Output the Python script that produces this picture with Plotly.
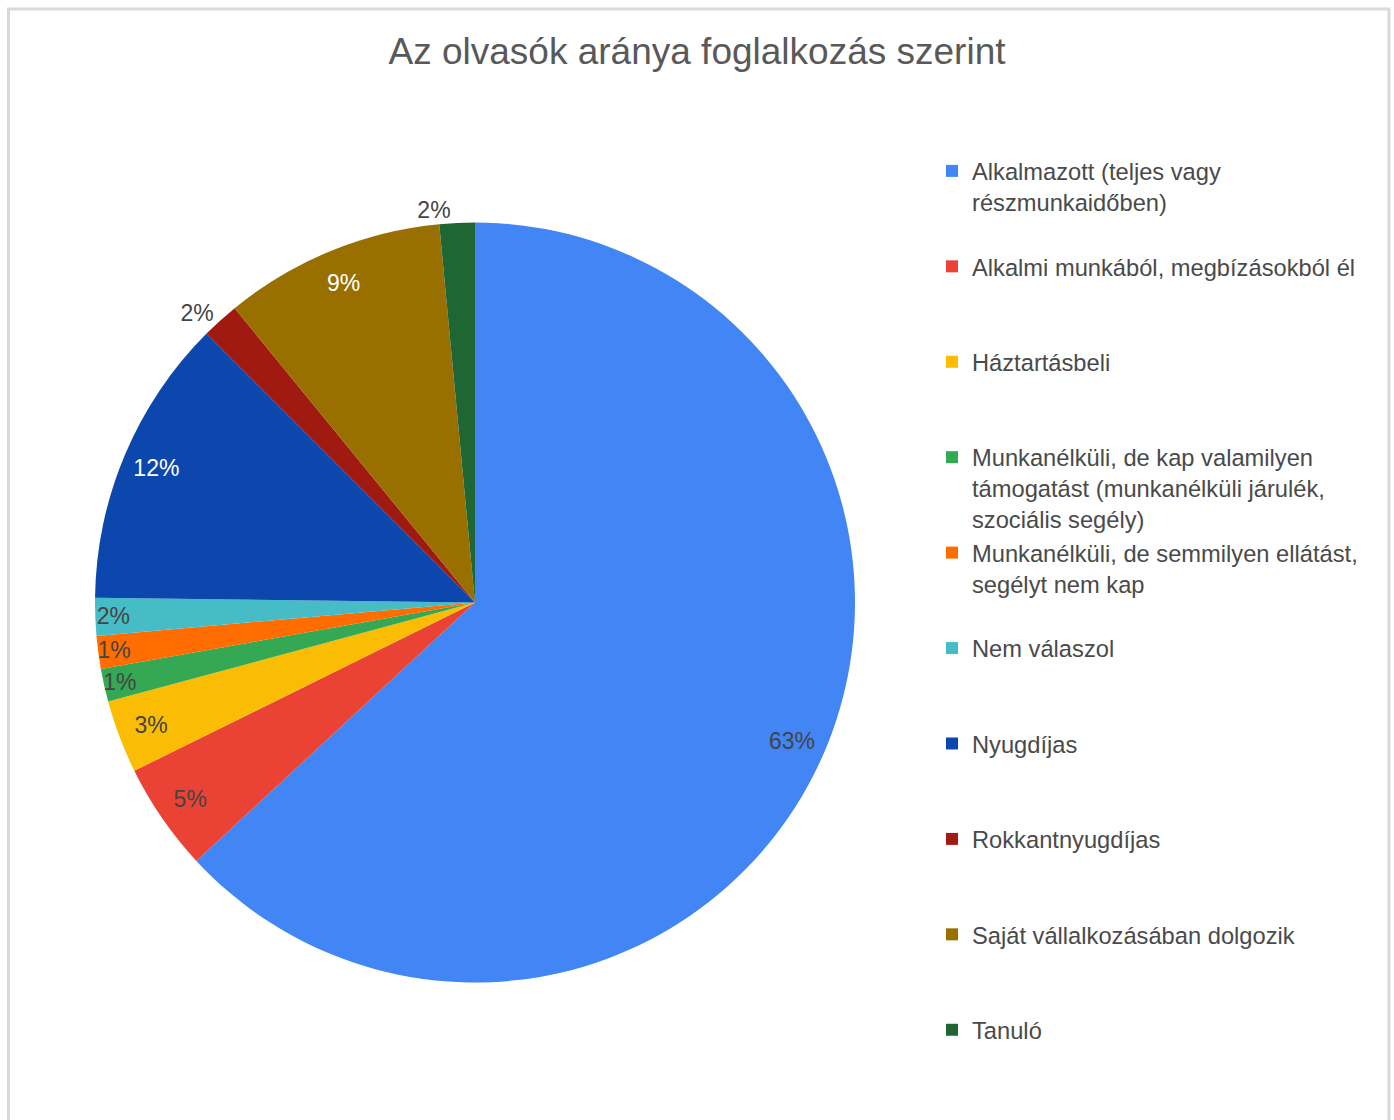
import plotly.graph_objects as go

# ---- data ----
categories = [
    "Alkalmazott (teljes vagy<br>részmunkaidőben)",
    "Alkalmi munkából, megbízásokból él",
    "Háztartásbeli",
    "Munkanélküli, de kap valamilyen<br>támogatást (munkanélküli járulék,<br>szociális segély)",
    "Munkanélküli, de semmilyen ellátást,<br>segélyt nem kap",
    "Nem válaszol",
    "Nyugdíjas",
    "Rokkantnyugdíjas",
    "Saját vállalkozásában dolgozik",
    "Tanuló",
]
shares = [63.1, 4.6, 3.1, 1.4, 1.4, 1.6, 12.3, 1.6, 9.4, 1.5]
colors = ["#4285F4", "#EA4335", "#FBBC04", "#34A853", "#FF6D01",
          "#46BDC6", "#0B47AD", "#A11A12", "#997000", "#1E6634"]
label_colors = ["#444444", "#444444", "#444444", "#444444", "#444444",
                "#444444", "#FFFFFF", "#444444", "#FFFFFF", "#444444"]
label_pos = ["inside", "inside", "inside", "inside", "inside",
             "inside", "inside", "outside", "inside", "outside"]
title_text = "Az olvasók aránya foglalkozás szerint"

W, H = 1394, 1120
FONT = "Liberation Sans, Arial, sans-serif"
pie_domain = dict(x=[95 / W, 855 / W], y=[1 - 982.5 / H, 1 - 222.5 / H])

# pad legend entries to equal height (3 lines), as in the reference
legend_labels = []
for i, c in enumerate(categories):
    n = c.count("<br>") + 1
    pad = 0 if i == len(categories) - 1 else 3 - n
    legend_labels.append(c + "<br>\u00a0" * pad)

fig = go.Figure()
# the pie itself
fig.add_trace(go.Pie(
    labels=legend_labels,
    values=shares,
    sort=False,
    direction="clockwise",
    rotation=0,
    marker=dict(colors=colors, line=dict(width=0)),
    textinfo="none",
    domain=pie_domain,
    hoverinfo="label+percent",
))
# transparent ring carrying the percentage labels near the rim
fig.add_trace(go.Pie(
    labels=legend_labels,
    values=shares,
    sort=False,
    direction="clockwise",
    rotation=0,
    hole=0.82,
    marker=dict(colors=["rgba(0,0,0,0)"] * len(shares), line=dict(width=0)),
    texttemplate="%{percent:.0%}",
    textposition=label_pos,
    insidetextorientation="horizontal",
    textfont=dict(family=FONT, size=23, color=label_colors),
    domain=pie_domain,
    showlegend=False,
    hoverinfo="skip",
))

fig.update_layout(
    width=W, height=H,
    margin=dict(l=0, r=0, t=0, b=0),
    paper_bgcolor="white",
    plot_bgcolor="white",
    font=dict(family=FONT, color="#444444"),
    title=dict(text=title_text, x=0.5, xanchor="center", xref="paper",
               y=1 - 51 / H, yanchor="middle", yref="container",
               font=dict(family=FONT, size=37, color="#595959")),
    legend=dict(x=932 / W, xanchor="left", y=1 - 149 / H, yanchor="top",
                valign="top", font=dict(family=FONT, size=23.7, color="#4a4a4a"),
                bgcolor="rgba(0,0,0,0)", borderwidth=0),
    uniformtext=dict(minsize=23, mode="show"),
    shapes=[dict(type="rect", xref="paper", yref="paper",
                 x0=8.5 / W, x1=1389 / W, y0=-0.02, y1=1 - 9 / H,
                 line=dict(color="#D9D9D9", width=3), layer="above")],
)

fig.write_html("out.html")
